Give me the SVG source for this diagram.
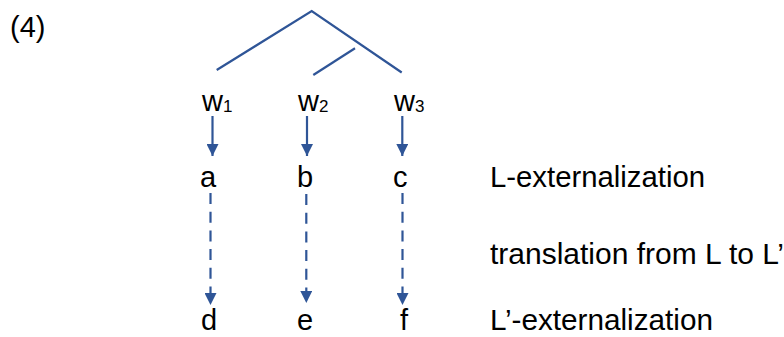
<svg xmlns="http://www.w3.org/2000/svg" width="784" height="337" viewBox="0 0 784 337">
<style>
  text { font-family: "Liberation Sans", Arial, sans-serif; font-size: 29px; fill: #000; }
  .sub { font-size: 17px; }
  .ln { stroke: #2F5597; stroke-width: 2.2; fill: none; stroke-linecap: butt; }
  .dash { stroke-dasharray: 11 7.7; }
</style>
<defs>
  <marker id="ah" markerUnits="userSpaceOnUse" markerWidth="12" markerHeight="12" viewBox="0 0 10 10" refX="10" refY="5" orient="auto">
    <path d="M0,0 L10,5 L0,10 Z" fill="#2F5597"/>
  </marker>
</defs>
<rect width="784" height="337" fill="#fff"/>
<text x="10" y="37">(4)</text>
<g id="connectors">
  <polyline class="ln" points="216.7,70 311.7,11 401.7,72.5"/>
  <line class="ln" x1="355" y1="48.3" x2="313.3" y2="75"/>
  <line class="ln" x1="212.5" y1="116" x2="212.5" y2="156" marker-end="url(#ah)"/>
  <line class="ln" x1="307" y1="116" x2="307" y2="156" marker-end="url(#ah)"/>
  <line class="ln" x1="402.3" y1="116" x2="402.3" y2="156" marker-end="url(#ah)"/>
  <line class="ln dash" x1="210.5" y1="193" x2="210.5" y2="305" marker-end="url(#ah)"/>
  <line class="ln dash" x1="306.3" y1="194" x2="306.3" y2="303" marker-end="url(#ah)"/>
  <line class="ln dash" x1="402.5" y1="193" x2="402.5" y2="305" marker-end="url(#ah)"/>
</g>
<g id="w1"><text x="202" y="111">w<tspan class="sub" dy="1">1</tspan></text></g>
<g id="w2"><text x="298" y="111">w<tspan class="sub" dy="1">2</tspan></text></g>
<g id="w3"><text x="394" y="111">w<tspan class="sub" dy="1">3</tspan></text></g>
<g id="a"><text x="200" y="187">a</text></g>
<g id="b"><text x="297" y="187">b</text></g>
<g id="c"><text x="393" y="187">c</text></g>
<g id="d"><text x="201" y="330">d</text></g>
<g id="e"><text x="297" y="330">e</text></g>
<g id="f"><text x="400" y="330">f</text></g>
<g id="labels">
  <text x="490" y="187" textLength="215" lengthAdjust="spacingAndGlyphs">L-externalization</text>
  <text x="490" y="264" textLength="294" lengthAdjust="spacingAndGlyphs">translation from L to L’</text>
  <text x="490" y="330" textLength="223" lengthAdjust="spacingAndGlyphs">L’-externalization</text>
</g>
</svg>
